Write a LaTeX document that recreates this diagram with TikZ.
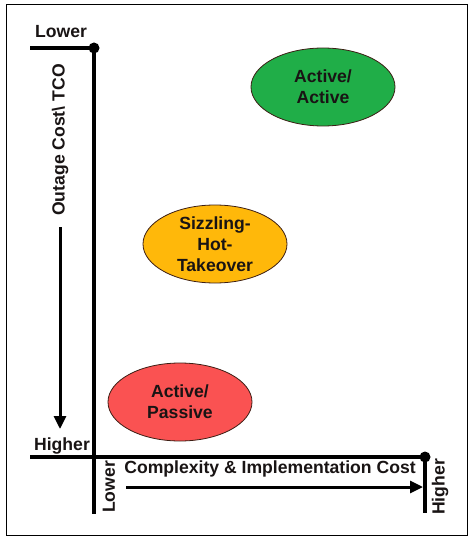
\documentclass[tikz,border=0pt]{standalone}
\usepackage{fontspec}
\setmainfont{Liberation Sans}
\usetikzlibrary{shapes.geometric,arrows.meta}

\definecolor{aagreen}{RGB}{32,174,72}
\definecolor{shtorange}{RGB}{255,184,10}
\definecolor{apred}{RGB}{250,82,82}
\definecolor{rim}{RGB}{60,30,20}
\definecolor{ink}{RGB}{25,20,20}

\begin{document}
\begin{tikzpicture}
[
	x=1pt,y=-1pt,
	>={Triangle[length=13pt,width=12pt]},
	axis/.style={line width=3.6pt,line cap=rect},
	arr/.style={line width=3pt,->},
	dot/.style={circle,fill=black,inner sep=0pt,minimum size=11pt},
	lbl/.style={text=ink,font=\bfseries\fontsize{17.6}{21}\selectfont,inner sep=0pt},
	blob/.style={ellipse,draw=rim,line width=0.8pt,minimum width=144pt,minimum height=78pt,inner sep=0pt,align=center,text=ink,font=\bfseries\fontsize{17.6}{21}\selectfont}
]

\useasboundingbox (0,0) rectangle (470,537);
\draw[line width=1pt] (6,5) rectangle (467,535);

\coordinate (yleft) at (32,48);
\node[dot] (ytop) at (94,48) {};
\coordinate (ybot) at (94,512);
\draw[axis] (yleft) -- (ytop.center) -- (ybot);

\coordinate (xleft) at (32,457);
\node[dot] (xend) at (425,457) {};
\coordinate (xbot) at (425,511);
\draw[axis] (xleft) -- (xend.center) -- (xbot);

\node[lbl] (ylow) at (61,32) {Lower};
\node[lbl] (yhigh) at (62,446) {Higher};
\node[lbl,rotate=90] (ycap) at (60,140) {Outage Cost\textbackslash{} TCO};

\coordinate (ya) at (60,227);
\coordinate (yb) at (60,429);
\draw[arr] (ya) -- (yb);

\node[lbl,rotate=90] (xlow) at (109,487) {Lower};
\node[lbl,rotate=90] (xhigh) at (440,487) {Higher};
\node[lbl] (xcap) at (270,469) {Complexity \& Implementation Cost};

\coordinate (xa) at (126,487);
\coordinate (xb) at (423,487);
\draw[arr] (xa) -- (xb);

\node[blob,fill=aagreen] (aa) at (323,87) {Active/\\Active};
\node[blob,fill=shtorange] (sht) at (215,244) {Sizzling-\\Hot-\\Takeover};
\node[blob,fill=apred] (ap) at (180,402) {Active/\\Passive};

\end{tikzpicture}
\end{document}
